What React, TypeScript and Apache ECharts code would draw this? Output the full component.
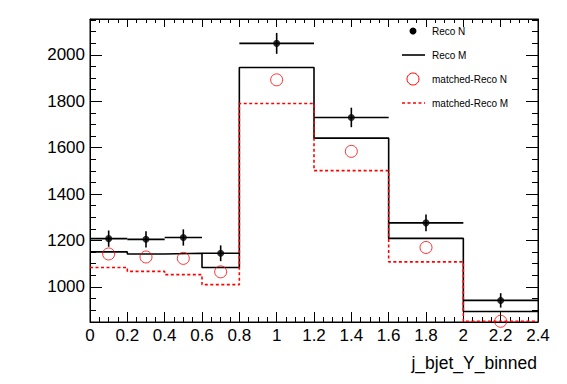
import React, { useEffect, useRef } from "react";
import * as echarts from "echarts";

const binEdges = [0, 0.2, 0.4, 0.6, 0.8, 1.2, 1.6, 2.0, 2.4];
const binCenters = [0.1, 0.3, 0.5, 0.7, 1.0, 1.4, 1.8, 2.2];
const recoN = [1208, 1205, 1213, 1145, 2049, 1730, 1276, 942];
const recoNErr = [35, 35, 35, 34, 45, 42, 36, 31];
const recoM = [1151, 1142, 1145, 1084, 1945, 1641, 1209, 894];
const matchedN = [1142, 1129, 1123, 1065, 1892, 1584, 1170, 852];
const matchedM = [1084, 1067, 1053, 1010, 1790, 1501, 1108, 852];

const yMajorTicks = [1000, 1200, 1400, 1600, 1800, 2000];
const yMinorTicks = [
  850, 900, 950, 1050, 1100, 1150, 1250, 1300, 1350, 1450, 1500, 1550, 1650,
  1700, 1750, 1850, 1900, 1950, 2050, 2100, 2150,
];
const legendLabels = ["Reco N", "Reco M", "matched-Reco N", "matched-Reco M"];
const xTitle = "j_bjet_Y_binned";

const FONT = "Liberation Sans, Arial, Helvetica, sans-serif";
const RED = "#ff0000";

function stepData(vals: number[]) {
  return binEdges.map((e, i) => [e, vals[Math.min(i, vals.length - 1)]]);
}

export default function App() {
  const ref = useRef<HTMLDivElement>(null);
  useEffect(() => {
    if (!ref.current) return;
    const chart = echarts.init(ref.current, null, { renderer: "svg" });
    const yBase = {
      type: "value",
      min: 849,
      max: 2154,
      splitLine: { show: false },
      minorSplitLine: { show: false },
    };
    const xBase = {
      type: "value",
      min: 0,
      max: 2.4,
      interval: 0.2,
      splitLine: { show: false },
      minorSplitLine: { show: false },
      axisLine: { show: true, onZero: false, lineStyle: { color: "#000", width: 1 } },
    };
    const errData = binCenters.map((c, i) => [
      c,
      recoN[i],
      binEdges[i],
      binEdges[i + 1],
      recoNErr[i],
    ]);
    const option: any = {
      animation: false,
      backgroundColor: "#fff",
      textStyle: { fontFamily: FONT },
      grid: {
        left: 90,
        right: 29,
        top: 19,
        bottom: 62,
        containLabel: false,
        outerBoundsMode: "none",
        show: true,
        borderColor: "#000",
        borderWidth: 1,
        backgroundColor: "transparent",
      },
      xAxis: [
        {
          ...xBase,
          position: "bottom",
          axisTick: { show: true, inside: true, length: 10, lineStyle: { color: "#000" } },
          minorTick: { show: true, splitNumber: 4, length: 5, lineStyle: { color: "#000" } },
          axisLabel: {
            show: true,
            color: "#000",
            fontSize: 17,
            fontFamily: FONT,
            margin: 5,
            showMinLabel: true,
            showMaxLabel: true,
            hideOverlap: false,
            formatter: (v: number) => String(Math.round(v * 10) / 10),
          },
        },
        {
          ...xBase,
          position: "top",
          axisTick: { show: true, inside: true, length: 8, lineStyle: { color: "#000" } },
          minorTick: { show: true, splitNumber: 4, length: 4, lineStyle: { color: "#000" } },
          axisLabel: { show: false },
        },
      ],
      yAxis: [
        {
          ...yBase,
          position: "left",
          axisLine: { show: true, lineStyle: { color: "#000", width: 1 } },
          axisTick: {
            show: true,
            inside: true,
            length: 12,
            customValues: yMajorTicks,
            lineStyle: { color: "#000" },
          },
          axisLabel: {
            show: true,
            customValues: yMajorTicks,
            color: "#000",
            fontSize: 17,
            fontFamily: FONT,
            margin: 5,
            formatter: (v: number) => String(Math.round(v)),
          },
        },
        {
          ...yBase,
          position: "left",
          axisLine: { show: false },
          axisTick: {
            show: true,
            inside: true,
            length: 6,
            customValues: yMinorTicks,
            lineStyle: { color: "#000" },
          },
          axisLabel: { show: false },
        },
        {
          ...yBase,
          position: "right",
          axisLine: { show: true, lineStyle: { color: "#000", width: 1 } },
          axisTick: {
            show: true,
            inside: true,
            length: 12,
            customValues: yMajorTicks,
            lineStyle: { color: "#000" },
          },
          axisLabel: { show: false },
        },
        {
          ...yBase,
          position: "right",
          axisLine: { show: false },
          axisTick: {
            show: true,
            inside: true,
            length: 6,
            customValues: yMinorTicks,
            lineStyle: { color: "#000" },
          },
          axisLabel: { show: false },
        },
      ],
      series: [
        {
          name: legendLabels[1],
          type: "line",
          step: "end",
          data: stepData(recoM),
          symbol: "none",
          clip: true,
          lineStyle: { color: "#000", width: 1.6 },
          z: 2,
        },
        {
          name: legendLabels[3],
          type: "line",
          step: "end",
          data: stepData(matchedM),
          symbol: "none",
          clip: true,
          lineStyle: { color: RED, width: 1.6, type: [3, 2.5] },
          z: 3,
        },
        {
          name: legendLabels[0] + " errors",
          type: "custom",
          data: errData,
          clip: true,
          z: 4,
          renderItem: (params: any, api: any) => {
            const x = api.value(0);
            const y = api.value(1);
            const xl = api.value(2);
            const xh = api.value(3);
            const e = api.value(4);
            const pL = api.coord([xl, y]);
            const pH = api.coord([xh, y]);
            const pT = api.coord([x, y + e]);
            const pB = api.coord([x, y - e]);
            const st = { stroke: "#000", lineWidth: 1.6 };
            return {
              type: "group",
              children: [
                { type: "line", shape: { x1: pL[0], y1: pL[1], x2: pH[0], y2: pH[1] }, style: st },
                { type: "line", shape: { x1: pT[0], y1: pT[1], x2: pB[0], y2: pB[1] }, style: st },
              ],
            };
          },
        },
        {
          name: legendLabels[0],
          type: "scatter",
          data: binCenters.map((c, i) => [c, recoN[i]]),
          symbol: "circle",
          symbolSize: 7,
          itemStyle: { color: "#000" },
          z: 5,
        },
        {
          name: legendLabels[2],
          type: "scatter",
          data: binCenters.map((c, i) => [c, matchedN[i]]),
          symbol: "circle",
          symbolSize: 12,
          itemStyle: { color: "transparent", borderColor: RED, borderWidth: 1 },
          z: 5,
        },
      ],
      graphic: [
        { type: "circle", shape: { cx: 413, cy: 31, r: 3.5 }, style: { fill: "#000" } },
        { type: "line", shape: { x1: 402, y1: 55, x2: 425, y2: 55 }, style: { stroke: "#000", lineWidth: 1.6 } },
        { type: "circle", shape: { cx: 413, cy: 79, r: 6 }, style: { fill: "none", stroke: RED, lineWidth: 1 } },
        {
          type: "line",
          shape: { x1: 402, y1: 103, x2: 425, y2: 103 },
          style: { stroke: RED, lineWidth: 1.6, lineDash: [3, 2.5] },
        },
        ...legendLabels.map((t, i) => ({
          type: "text",
          x: 432,
          y: 31 + i * 24.2,
          style: {
            text: t,
            fill: "#000",
            font: `10px ${FONT}`,
            textAlign: "left",
            textVerticalAlign: "middle",
          },
        })),
        {
          type: "text",
          x: 537,
          y: 363,
          style: {
            text: xTitle,
            fill: "#000",
            font: `17.5px ${FONT}`,
            textAlign: "right",
            textVerticalAlign: "middle",
          },
        },
      ],
    };
    chart.setOption(option);
    return () => chart.dispose();
  }, []);
  return (
    <div
      ref={ref}
      style={{ position: "fixed", left: 0, top: 0, width: 567, height: 384 }}
    />
  );
}
